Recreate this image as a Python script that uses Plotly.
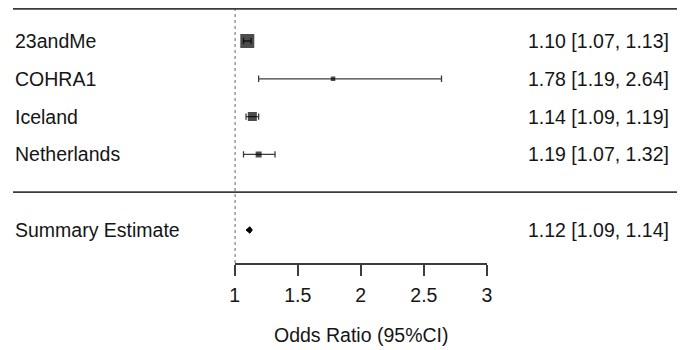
import plotly.graph_objects as go

# ---- data ----
studies = ["23andMe", "COHRA1", "Iceland", "Netherlands"]
study_or = [1.10, 1.78, 1.14, 1.19]
study_lo = [1.07, 1.19, 1.09, 1.07]
study_hi = [1.13, 2.64, 1.19, 1.32]
study_rows = [6, 5, 4, 3]
study_sizes = [14, 4.5, 9, 6]          # marker sizes (weights)

summary_label = "Summary Estimate"
summary_or = 1.12
summary_lo = 1.09
summary_hi = 1.14
summary_row = 1
separator_row = 2

tick_vals = [1, 1.5, 2, 2.5, 3]
tick_text = ["1", "1.5", "2", "2.5", "3"]
x_title = "Odds Ratio (95%CI)"

# page body adds an 8px offset, so the figure is 8px smaller
W, H = 677, 342
FONT = "Liberation Sans, Arial, Helvetica, sans-serif"
FS = 19.5
TXT = "#151515"
LINE = "#3c3c3c"

# layout geometry (figure pixels)
ax_x0, ax_x1 = 225, 481
axis_px = 255
row0_px, row_step = 259.8, 37.8
y_bot = (row0_px - axis_px) / row_step
y_top = row0_px / row_step
top_line_row = (row0_px - 0.9) / row_step
cap = 3.2 / row_step                   # half-height of CI end caps, in rows

fig = go.Figure()

# confidence intervals (drawn first, under the squares)
ci_x, ci_y = [], []
for r, l, h in zip(study_rows, study_lo, study_hi):
    ci_x += [l, h, None, l, l, None, h, h, None]
    ci_y += [r, r, None, r - cap, r + cap, None, r - cap, r + cap, None]
fig.add_trace(go.Scatter(
    x=ci_x, y=ci_y, mode="lines", line=dict(color=LINE, width=1.3),
    showlegend=False, hoverinfo="skip"))

# study point estimates
fig.add_trace(go.Scatter(
    x=study_or, y=study_rows, mode="markers",
    marker=dict(symbol="square", size=study_sizes, color="black", line=dict(width=0)),
    showlegend=False, hoverinfo="skip"))

# summary diamond
d = 0.085
fig.add_trace(go.Scatter(
    x=[summary_lo, summary_or, summary_hi, summary_or, summary_lo],
    y=[summary_row, summary_row + d, summary_row, summary_row - d, summary_row],
    mode="lines", fill="toself", fillcolor="black",
    line=dict(color="black", width=1), showlegend=False, hoverinfo="skip"))

fig.update_layout(
    width=W, height=H, margin=dict(l=0, r=0, t=0, b=0),
    paper_bgcolor="white", plot_bgcolor="white",
    font=dict(family=FONT, size=FS, color=TXT),
    xaxis=dict(domain=[ax_x0 / W, ax_x1 / W], range=[1, 3],
               tickvals=tick_vals, ticktext=tick_text,
               showgrid=False, zeroline=False, showline=True,
               linecolor=LINE, linewidth=1.6,
               ticks="outside", ticklen=11, tickwidth=1.6, tickcolor=LINE,
               tickfont=dict(size=FS, color=TXT), ticklabelstandoff=3),
    yaxis=dict(domain=[(H - axis_px) / H, 1], range=[y_bot, y_top],
               showgrid=False, zeroline=False, showticklabels=False,
               showline=False, ticks=""),
)

# top rule and separator
fig.add_shape(type="line", xref="paper", yref="y", x0=0, x1=1,
              y0=top_line_row, y1=top_line_row, line=dict(color=LINE, width=1.8))
fig.add_shape(type="line", xref="paper", yref="y", x0=0, x1=1,
              y0=separator_row, y1=separator_row, line=dict(color=LINE, width=1.8))
# reference line at OR = 1
fig.add_shape(type="line", xref="x", yref="paper", x0=1, x1=1,
              y0=(H - axis_px) / H, y1=1,
              line=dict(color=LINE, width=1.6, dash="dot"))

# row labels and estimate text
labels = studies + [summary_label]
rows = study_rows + [summary_row]
ors = study_or + [summary_or]
los = study_lo + [summary_lo]
his = study_hi + [summary_hi]
for lab, r, o, l, h in zip(labels, rows, ors, los, his):
    fig.add_annotation(x=-0.5 / W, xref="paper", y=r, yref="y", text=lab,
                       xanchor="left", yanchor="middle", showarrow=False,
                       font=dict(size=FS, color=TXT))
    fig.add_annotation(x=668 / W, xref="paper", y=r, yref="y",
                       text=f"{o:.2f} [{l:.2f}, {h:.2f}]",
                       xanchor="right", yanchor="middle", showarrow=False,
                       font=dict(size=FS, color=TXT))

fig.add_annotation(x=2, xref="x", y=1 - 326.5 / H, yref="paper", text=x_title,
                   xanchor="center", yanchor="middle", showarrow=False,
                   font=dict(size=FS, color=TXT))

fig.write_html("out.html")
